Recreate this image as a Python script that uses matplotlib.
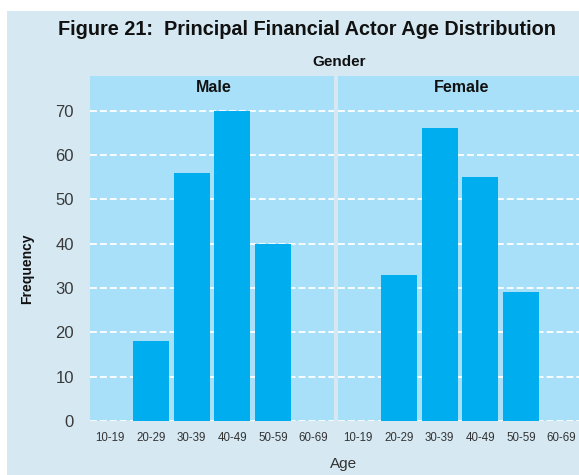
import matplotlib.pyplot as plt
from matplotlib.patches import Rectangle

# data
age_groups = ["10-19", "20-29", "30-39", "40-49", "50-59", "60-69"]
genders = ["Male", "Female"]
male_freq = [0, 18, 56, 70, 40, 0]
female_freq = [0, 33, 66, 55, 29, 0]
y_ticks = [0, 10, 20, 30, 40, 50, 60, 70]

W, H = 579, 475
BG = "#d6e9f3"
PANEL = "#a8e0f9"
BAR = "#00aeef"
plt.rcParams["font.family"] = ["Liberation Sans", "DejaVu Sans"]


def fx(x):
    return x / W


def fy(y):
    return 1 - y / H


def main() -> None:
    fig = plt.figure(figsize=(W / 100, H / 100), dpi=100, facecolor="white")
    fig.patches.append(Rectangle((fx(7.5), 0), 1, fy(11), transform=fig.transFigure,
                                 facecolor=BG, edgecolor="none", zorder=-10))

    # panels in pixel coords: left, right; top 76, bottom 421
    panels = [(90, 334), (338, 582)]
    top, bottom = 76, 421
    for k, (name, freq) in enumerate(zip(genders, [male_freq, female_freq])):
        l, r = panels[k]
        ax = fig.add_axes([fx(l), fy(bottom), (r - l) / W, (bottom - top) / H])
        ax.set_facecolor(PANEL)
        ax.bar(range(len(age_groups)), freq, width=0.89, color=BAR, zorder=3)
        ax.set_xlim(-0.5, 5.5)
        ax.set_ylim(0, 77.8)
        ax.set_yticks(y_ticks)
        ax.grid(axis="y", color="white", linestyle=(0, (3.8, 1.7)), linewidth=1.3, zorder=1)
        ax.set_xticks(range(len(age_groups)))
        ax.set_xticklabels(age_groups, fontsize=8.3, color="#333333")
        ax.tick_params(axis="x", length=0, pad=8)
        ax.tick_params(axis="y", length=0, pad=11.5, labelsize=12, labelcolor="#3a3a3a")
        if k == 1:
            ax.tick_params(axis="y", labelleft=False)
        for s in ax.spines.values():
            s.set_visible(False)
        fig.text(fx((l + r) / 2 + 2), fy(92), name, ha="center", va="baseline",
                 fontsize=11.5, fontweight="bold", color="#111111")

    fig.text(fx(307), fy(35), "Figure 21:  Principal Financial Actor Age Distribution",
             ha="center", va="baseline", fontsize=14.3, fontweight="bold", color="#111111")
    fig.text(fx(339), fy(66), "Gender", ha="center", va="baseline",
             fontsize=11, fontweight="bold", color="#111111")
    fig.text(fx(343.5), fy(468), "Age", ha="center", va="baseline",
             fontsize=11, color="#333333")
    fig.text(fx(27), fy(269), "Frequency", ha="center", va="center", rotation=90,
             fontsize=10, fontweight="bold", color="#111111")

    fig.savefig("out.png", dpi=100, facecolor=fig.get_facecolor())


if __name__ == "__main__":
    main()
